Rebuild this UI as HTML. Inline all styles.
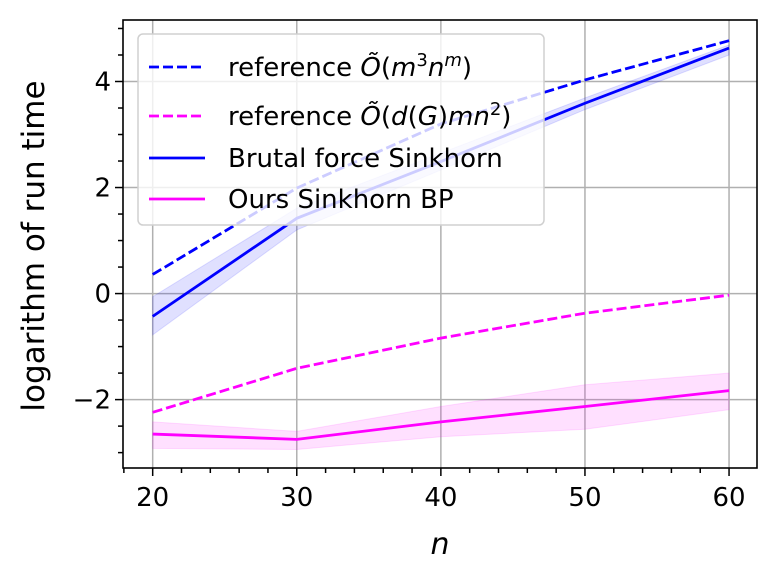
<!DOCTYPE html>
<html><head><meta charset="utf-8"><style>
html,body{margin:0;padding:0;background:#fff;}
svg{display:block;font-family:"DejaVu Sans","Liberation Sans",sans-serif;}
</style></head><body>
<svg id="chart" width="777" height="581" viewBox="0 0 777 581"></svg>
<script>
const categories=[20,30,40,50,60];
const refBlue=[0.36,1.99,3.2,4.03,4.77];
const refMagenta=[-2.24,-1.41,-0.84,-0.37,-0.03];
const bruteMean=[-0.43,1.42,2.49,3.59,4.63];
const bruteUpper=[-0.06,1.61,2.65,3.69,4.69];
const bruteLower=[-0.78,1.2,2.33,3.47,4.5];
const oursMean=[-2.65,-2.75,-2.42,-2.13,-1.83];
const oursUpper=[-2.42,-2.6,-2.13,-1.72,-1.5];
const oursLower=[-2.92,-2.94,-2.7,-2.56,-2.19];
const xTicks=[20,30,40,50,60];
const yTicks=[-2,0,2,4];

const L=123,R=757,T=20,B=468;
const xmin=17.94,xmax=61.94,ymin=-3.29,ymax=5.16;
const X=v=>L+(v-xmin)/(xmax-xmin)*(R-L);
const Y=v=>B-(v-ymin)/(ymax-ymin)*(B-T);
const NS='http://www.w3.org/2000/svg';
const svg=document.getElementById('chart');
function mk(tag,attrs,parent){const e=document.createElementNS(NS,tag);for(const k in attrs)e.setAttribute(k,attrs[k]);(parent||svg).appendChild(e);return e;}

xTicks.forEach(v=>{const g=mk('line',{x1:X(v),x2:X(v),y1:T,y2:B,stroke:'#b0b0b0','stroke-width':1.5});

});
yTicks.forEach(v=>{const g=mk('line',{x1:L,x2:R,y1:Y(v),y2:Y(v),stroke:'#b0b0b0','stroke-width':1.5});

});

function band(up,lo,color,name){
  let d='M'+categories.map((c,i)=>X(c)+','+Y(up[i])).join('L');
  d+='L'+categories.slice().reverse().map((c,j)=>{const i=categories.length-1-j;return X(c)+','+Y(lo[i]);}).join('L')+'Z';
  const p=mk('path',{d:d,fill:color,'fill-opacity':0.12,stroke:color,'stroke-opacity':0.12});
  
  
}
function line(vals,color,dash,name){
  const p=mk('polyline',{points:categories.map((c,i)=>X(c)+','+Y(vals[i])).join(' '),fill:'none',stroke:color,'stroke-width':2.8,'stroke-dasharray':dash||'none'});
  
  
}
band(bruteUpper,bruteLower,'#0000ff','brute-force-band');
band(oursUpper,oursLower,'#ff00ff','ours-band');
line(refBlue,'#0000ff','10,4','reference-m3nm-line');
line(refMagenta,'#ff00ff','10,4','reference-dg-line');
line(bruteMean,'#0000ff',null,'brute-force-line');
line(oursMean,'#ff00ff',null,'ours-line');

const fr=mk('rect',{x:L,y:T,width:R-L,height:B-T,fill:'none',stroke:'#000','stroke-width':1.6});



for(let v=18;v<=61;v+=2){const major=v%10===0;mk('line',{x1:X(v),x2:X(v),y1:B,y2:B+(major?8:5),stroke:'#000','stroke-width':1.5});}
xTicks.forEach(v=>{const t=mk('text',{x:X(v),y:B+38,'text-anchor':'middle','font-size':26});t.textContent=v;

});
for(let v=-3;v<=5;v+=0.5){const major=Math.abs(v%2)<1e-9;mk('line',{x1:L,x2:L-(major?8:5),y1:Y(v),y2:Y(v),stroke:'#000','stroke-width':1.5});}
yTicks.forEach(v=>{const t=mk('text',{x:L-12,y:Y(v)+9,'text-anchor':'end','font-size':26});t.textContent=(v<0?'\u2212'+(-v):v);

});
</script>
<svg width="777" height="581" style="position:absolute;left:0;top:0;font-family:'DejaVu Sans','Liberation Sans',sans-serif;">
<text x="440" y="554" text-anchor="middle" font-size="30" font-style="italic">n</text>
<text transform="translate(44,246) rotate(-90)" text-anchor="middle" font-size="31">logarithm of run time</text>
<g>
<rect x="138" y="34" width="406" height="191" rx="5" fill="#fff" fill-opacity="0.8" stroke="#d0d0d0" stroke-width="1.5"/>
<g><line x1="149" x2="205" y1="67" y2="67" stroke="#0000ff" stroke-width="2.8" stroke-dasharray="10,4"/>
<text x="228" y="76" font-size="26">reference <tspan font-style="italic">Õ</tspan>(<tspan font-style="italic">m</tspan><tspan font-size="18" dy="-10">3</tspan><tspan font-style="italic" dy="10">n</tspan><tspan font-size="18" font-style="italic" dy="-10">m</tspan><tspan dy="10">)</tspan></text></g>
<g><line x1="149" x2="205" y1="116" y2="116" stroke="#ff00ff" stroke-width="2.8" stroke-dasharray="10,4"/>
<text x="228" y="125" font-size="26">reference <tspan font-style="italic">Õ</tspan>(<tspan font-style="italic">d</tspan>(<tspan font-style="italic">G</tspan>)<tspan font-style="italic">mn</tspan><tspan font-size="18" dy="-10">2</tspan><tspan dy="10">)</tspan></text></g>
<g><line x1="149" x2="205" y1="158" y2="158" stroke="#0000ff" stroke-width="2.8"/>
<text x="228" y="167" font-size="26">Brutal force Sinkhorn</text></g>
<g><line x1="149" x2="205" y1="199" y2="199" stroke="#ff00ff" stroke-width="2.8"/>
<text x="228" y="208" font-size="26">Ours Sinkhorn BP</text></g>
</g>
</svg>
</body></html>
